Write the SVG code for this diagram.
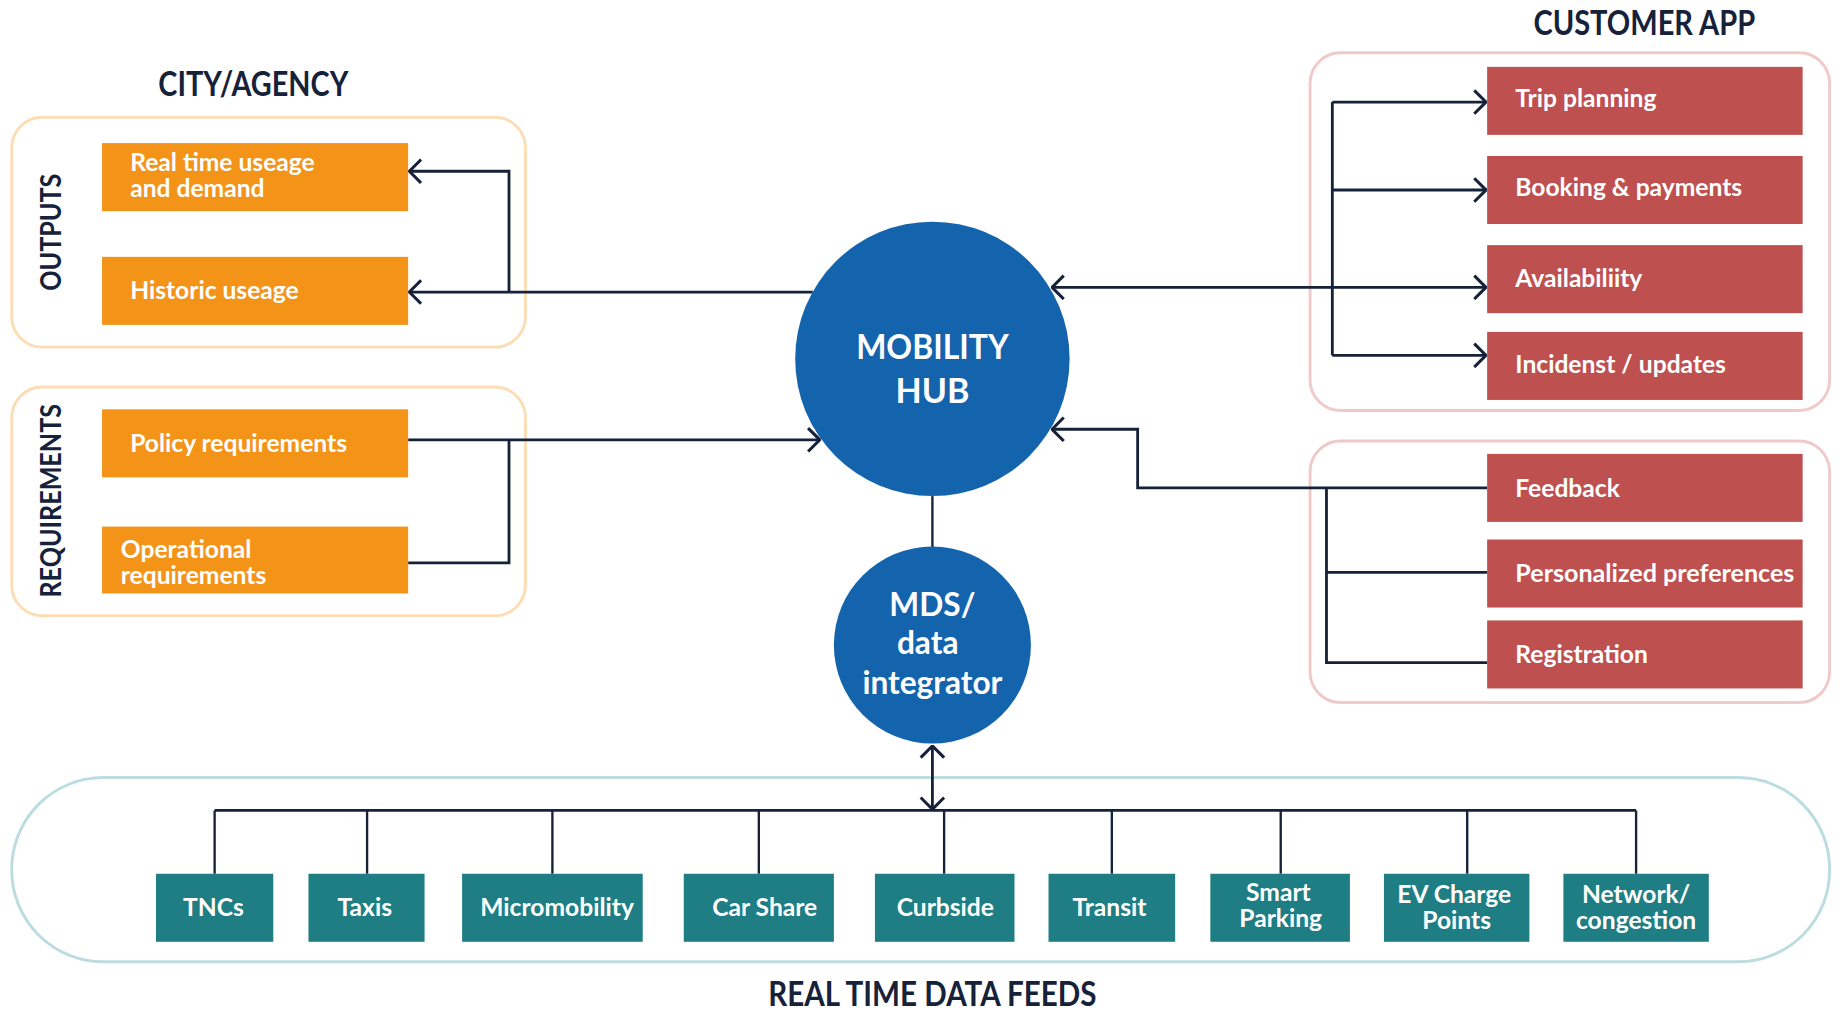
<svg xmlns="http://www.w3.org/2000/svg" width="1839" height="1012" viewBox="0 0 1839 1012">
<defs>
<style>
.t{font-family:Lato,"Open Sans","Liberation Sans",sans-serif;font-weight:700}
.title{fill:#16213A;font-size:29px}
.bt{fill:#ffffff;font-size:21px}
.ct{fill:#ffffff;font-size:29px}
.org{fill:#F39419}
.red{fill:#BE5050}
.teal{fill:#1E7E84}
.con{fill:none;stroke:#16213A;stroke-width:2.4}
</style>
<marker id="arr" viewBox="0 0 12 22" refX="11" refY="11" markerWidth="12" markerHeight="22" markerUnits="userSpaceOnUse" orient="auto-start-reverse">
<path d="M1,1 L11,11 L1,21" fill="none" stroke="#16213A" stroke-width="2.6"/>
</marker>
</defs>
<rect width="1839" height="1012" fill="#ffffff"/>
<g transform="scale(1.17283)">
<g id="containers">
<rect x="10" y="100" width="438" height="196" rx="26" fill="none" stroke="#FCDDB5" stroke-width="2.5"/>
<rect x="10" y="330" width="438" height="195" rx="26" fill="none" stroke="#FCDDB5" stroke-width="2.5"/>
<rect x="1117" y="45" width="443" height="305" rx="26" fill="none" stroke="#F0CACA" stroke-width="2.5"/>
<rect x="1117" y="376" width="443" height="223" rx="26" fill="none" stroke="#F0CACA" stroke-width="2.5"/>
<rect x="10" y="663" width="1550" height="157" rx="78" fill="none" stroke="#BCDDE0" stroke-width="2.5"/>
</g>
<g id="titles">
<text class="t title" x="216" y="82" text-anchor="middle" textLength="162" lengthAdjust="spacingAndGlyphs">CITY/AGENCY</text>
<text class="t title" x="1402" y="30" text-anchor="middle" textLength="189" lengthAdjust="spacingAndGlyphs">CUSTOMER APP</text>
<text class="t title" x="795" y="858" text-anchor="middle" textLength="280" lengthAdjust="spacingAndGlyphs">REAL TIME DATA FEEDS</text>
<text class="t title" x="0" y="0" font-size="24" text-anchor="middle" transform="translate(52,198) rotate(-90)" textLength="100" lengthAdjust="spacingAndGlyphs" style="font-size:24px">OUTPUTS</text>
<text class="t title" x="0" y="0" text-anchor="middle" transform="translate(52,427) rotate(-90)" textLength="165" lengthAdjust="spacingAndGlyphs" style="font-size:24px">REQUIREMENTS</text>
</g>
<g id="connectors">
<path class="con" d="M693,249 H349" marker-end="url(#arr)"/>
<path class="con" d="M434,249 V146 H349" marker-end="url(#arr)"/>
<path class="con" d="M348,375 H699" marker-end="url(#arr)"/>
<path class="con" d="M348,480 H434 V375"/>
<path class="con" d="M897,245 H1267" marker-start="url(#arr)" marker-end="url(#arr)"/>
<path class="con" d="M1136,87 V303"/>
<path class="con" d="M1136,87 H1267" marker-end="url(#arr)"/>
<path class="con" d="M1136,162 H1267" marker-end="url(#arr)"/>
<path class="con" d="M1136,303 H1267" marker-end="url(#arr)"/>
<path class="con" d="M1268,416 H970 V366 H897" marker-end="url(#arr)"/>
<path class="con" d="M1131,416 V565 H1268"/>
<path class="con" d="M1131,488 H1268"/>
<path class="con" d="M795,423 V467" style="stroke-width:2"/>
<path class="con" d="M795,636 V690" marker-start="url(#arr)" marker-end="url(#arr)"/>
<path class="con" d="M183,691 H1395"/>
<path class="con" d="M183,691 V745 M313,691 V745 M471,691 V745 M647,691 V745 M805,691 V745 M948,691 V745 M1092,691 V745 M1251,691 V745 M1395,691 V745" style="stroke-width:2"/>
</g>
<g id="hub">
<circle cx="795" cy="306" r="117" fill="#1464AD"/>
<text class="t ct" x="795" y="306" text-anchor="middle" textLength="130" lengthAdjust="spacingAndGlyphs">MOBILITY</text>
<text class="t ct" x="795" y="344" text-anchor="middle">HUB</text>
</g>
<g id="mds">
<circle cx="795" cy="550" r="84" fill="#1464AD"/>
<text class="t ct" x="795" y="525" text-anchor="middle" style="font-size:27px">MDS/</text>
<text class="t ct" x="791" y="558" text-anchor="middle" style="font-size:27px">data</text>
<text class="t ct" x="795" y="592" text-anchor="middle" style="font-size:27px">integrator</text>
</g>
<g id="out-realtime"><rect class="org" x="87" y="122" width="261" height="58"/><text class="t bt" x="111" y="146">Real time useage</text><text class="t bt" x="111" y="168">and demand</text></g>
<g id="out-historic"><rect class="org" x="87" y="219" width="261" height="58"/><text class="t bt" x="111" y="255">Historic useage</text></g>
<g id="req-policy"><rect class="org" x="87" y="349" width="261" height="58"/><text class="t bt" x="111" y="385">Policy requirements</text></g>
<g id="req-operational"><rect class="org" x="87" y="449" width="261" height="57"/><text class="t bt" x="103" y="476">Operational</text><text class="t bt" x="103" y="498">requirements</text></g>
<g id="app-trip"><rect class="red" x="1268" y="57" width="269" height="58"/><text class="t bt" x="1292" y="91">Trip planning</text></g>
<g id="app-booking"><rect class="red" x="1268" y="133" width="269" height="58"/><text class="t bt" x="1292" y="167">Booking &amp; payments</text></g>
<g id="app-availability"><rect class="red" x="1268" y="209" width="269" height="58"/><text class="t bt" x="1292" y="245">Availabiliity</text></g>
<g id="app-incidents"><rect class="red" x="1268" y="283" width="269" height="58"/><text class="t bt" x="1292" y="318">Incidenst / updates</text></g>
<g id="app-feedback"><rect class="red" x="1268" y="387" width="269" height="58"/><text class="t bt" x="1292" y="424">Feedback</text></g>
<g id="app-preferences"><rect class="red" x="1268" y="460" width="269" height="58"/><text class="t bt" x="1292" y="496" textLength="238" lengthAdjust="spacingAndGlyphs">Personalized preferences</text></g>
<g id="app-registration"><rect class="red" x="1268" y="529" width="269" height="58"/><text class="t bt" x="1292" y="565">Registration</text></g>
<g id="feed-tncs"><rect class="teal" x="133" y="745" width="100" height="58"/><text class="t bt" x="182" y="781" text-anchor="middle">TNCs</text></g>
<g id="feed-taxis"><rect class="teal" x="263" y="745" width="99" height="58"/><text class="t bt" x="311" y="781" text-anchor="middle">Taxis</text></g>
<g id="feed-micro"><rect class="teal" x="394" y="745" width="154" height="58"/><text class="t bt" x="475" y="781" text-anchor="middle">Micromobility</text></g>
<g id="feed-carshare"><rect class="teal" x="583" y="745" width="128" height="58"/><text class="t bt" x="652" y="781" text-anchor="middle">Car Share</text></g>
<g id="feed-curbside"><rect class="teal" x="746" y="745" width="119" height="58"/><text class="t bt" x="806" y="781" text-anchor="middle">Curbside</text></g>
<g id="feed-transit"><rect class="teal" x="894" y="745" width="108" height="58"/><text class="t bt" x="946" y="781" text-anchor="middle">Transit</text></g>
<g id="feed-smart"><rect class="teal" x="1032" y="745" width="119" height="58"/><text class="t bt" x="1090" y="768" text-anchor="middle">Smart</text><text class="t bt" x="1092" y="790" text-anchor="middle">Parking</text></g>
<g id="feed-ev"><rect class="teal" x="1180" y="745" width="124" height="58"/><text class="t bt" x="1240" y="770" text-anchor="middle">EV Charge</text><text class="t bt" x="1242" y="792" text-anchor="middle">Points</text></g>
<g id="feed-network"><rect class="teal" x="1333" y="745" width="124" height="58"/><text class="t bt" x="1395" y="770" text-anchor="middle">Network/</text><text class="t bt" x="1395" y="792" text-anchor="middle">congestion</text></g>
</g>
</svg>
